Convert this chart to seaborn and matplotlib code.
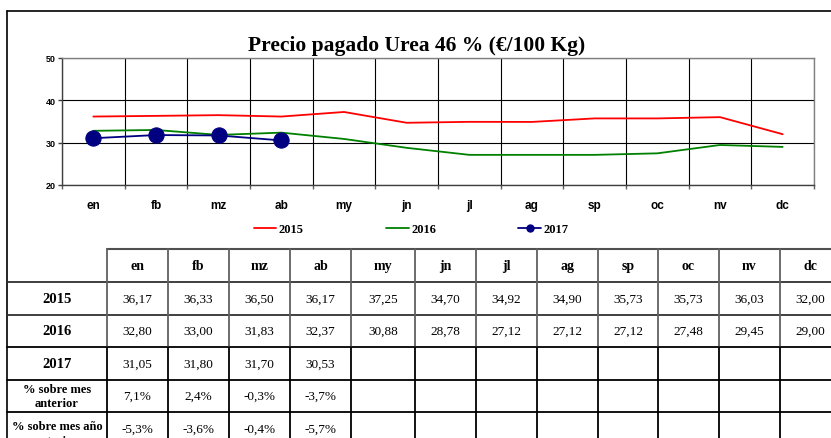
import matplotlib
matplotlib.use("Agg")
import matplotlib.pyplot as plt
import numpy as np
import seaborn as sns
from matplotlib.lines import Line2D

# Monthly prices (€/100 kg) for urea 46 %
months = ["en", "fb", "mz", "ab", "my", "jn", "jl", "ag", "sp", "oc", "nv", "dc"]
p2015 = [36.17, 36.33, 36.50, 36.17, 37.25, 34.70, 34.92, 34.90, 35.73, 35.73, 36.03, 32.00]
p2016 = [32.80, 33.00, 31.83, 32.37, 30.88, 28.78, 27.12, 27.12, 27.12, 27.48, 29.45, 29.00]
p2017 = [31.05, 31.80, 31.70, 30.53]
pct_prev_month = [7.1, 2.4, -0.3, -3.7]
pct_prev_year = [-5.3, -3.6, -0.4, -5.7]
years = ["2015", "2016", "2017"]

sns.set_theme(style="white")
plt.rcParams["font.family"] = ["Liberation Serif", "DejaVu Sans"]
plt.rcParams["text.color"] = "black"
plt.rcParams["xtick.color"] = "black"
plt.rcParams["ytick.color"] = "black"

W, H = 831, 439
fig = plt.figure(figsize=(W / 100, H / 100), dpi=100)
fig.patch.set_facecolor("white")


def fx(px):
    return px / W


def fy(py):
    return 1 - py / H


RED, GREEN, NAVY = "#FF0000", "#008000", "#000080"

# ---- line chart ----
ax = fig.add_axes([fx(62), fy(186), fx(814) - fx(62), fy(59) - fy(186)])
x12 = np.arange(len(months))
sns.lineplot(x=x12, y=p2015, ax=ax, color=RED, lw=1.3)
sns.lineplot(x=x12, y=p2016, ax=ax, color=GREEN, lw=1.3)
sns.lineplot(x=x12[:len(p2017)], y=p2017, ax=ax, color=NAVY, lw=1.3,
             marker="o", markersize=11, markeredgecolor=NAVY, markerfacecolor=NAVY)

ax.set_xlim(-0.5, 11.5)
ax.set_ylim(20, 50)
ax.set_yticks([20, 30, 40, 50])
ax.set_xticks(x12)
ax.set_xticklabels(months)
ax.set_xticks(np.arange(-0.5, 12, 1), minor=True)
ax.grid(False)
ax.grid(which="minor", axis="x", color="black", lw=0.8)
ax.grid(which="major", axis="y", color="black", lw=0.8)
ax.set_xlabel("")
ax.set_ylabel("")
for s in ax.spines.values():
    s.set_visible(True)
    s.set_color("#808080")
    s.set_linewidth(1.0)
ax.spines["left"].set_color("#404040")
ax.spines["bottom"].set_color("#404040")
ax.tick_params(axis="x", which="major", bottom=True, length=0, pad=10)
ax.tick_params(axis="x", which="minor", bottom=True, length=3, color="#606060", width=1)
ax.tick_params(axis="y", which="major", left=True, length=3, color="#404040", width=1, pad=1.5)
for lab in ax.get_xticklabels():
    lab.set_fontfamily("Liberation Sans")
    lab.set_fontweight("bold")
    lab.set_fontsize(8.5)
for lab in ax.get_yticklabels():
    lab.set_fontfamily("Liberation Sans")
    lab.set_fontweight("bold")
    lab.set_fontsize(6.5)

fig.text(fx(417), fy(46), "Precio pagado Urea 46 % (€/100 Kg)", ha="center", va="center",
         fontsize=15.5, fontweight="bold", family="Liberation Serif", color="black")

handles = [
    Line2D([], [], color=RED, lw=1.3),
    Line2D([], [], color=GREEN, lw=1.3),
    Line2D([], [], color=NAVY, lw=1.3, marker="o", markersize=5),
]
leg = fig.legend(handles, years, loc="center", bbox_to_anchor=(fx(411), fy(230)), ncol=3,
                 frameon=False, handlelength=1.8, handletextpad=0.2, columnspacing=6.6,
                 prop={"family": "Liberation Serif", "weight": "bold", "size": 9})

# ---- data table ----
tab = fig.add_axes([0, 0, 1, 1], zorder=-1)
tab.set_xlim(0, W)
tab.set_ylim(H, 0)
tab.axis("off")

# outer frame of the chart
tab.plot([7, 7], [12, H + 5], color="black", lw=1.2, clip_on=False)
tab.plot([7, W + 5], [12, 12], color="black", lw=1.2, clip_on=False)

col_x = [107, 168, 229, 290, 351, 415, 476, 537, 598, 658, 719, 780, 841]
row_y = [250, 283, 316, 348, 381, 413, 446]
label_cx = 57

tab.plot([107, W + 5], [row_y[0]] * 2, color="#505050", lw=1.5, clip_on=False)
for yy in row_y[1:]:
    c = "#303030" if yy <= 316 else "black"
    tab.plot([7, W + 5], [yy, yy], color=c, lw=1.3, clip_on=False)
for xx in col_x:
    tab.plot([xx, xx], [row_y[0], row_y[3]], color="#606060", lw=1.3, clip_on=False)
    tab.plot([xx, xx], [row_y[3], H + 5], color="black", lw=1.3, clip_on=False)

centers = [(col_x[i] + col_x[i + 1]) / 2 for i in range(len(months))]
row_c = [(row_y[i] + row_y[i + 1]) / 2 for i in range(len(row_y) - 1)]

for cx, m in zip(centers, months):
    tab.text(cx, row_c[0], m, ha="center", va="center", fontsize=10, fontweight="bold")


def fmt_val(v):
    return f"{v:.2f}".replace(".", ",")


def fmt_pct(v):
    return f"{v:.1f}%".replace(".", ",")


series = [p2015, p2016, p2017]
for r, (yr, vals) in enumerate(zip(years, series), start=1):
    tab.text(label_cx, row_c[r], yr, ha="center", va="center", fontsize=10.5, fontweight="bold")
    for cx, v in zip(centers, vals):
        tab.text(cx, row_c[r], fmt_val(v), ha="center", va="center", fontsize=9.5)

tab.text(label_cx, row_c[4], "% sobre mes\nanterior", ha="center", va="center",
         fontsize=9, fontweight="bold", linespacing=1.3)
for cx, v in zip(centers, pct_prev_month):
    tab.text(cx, row_c[4], fmt_pct(v), ha="center", va="center", fontsize=9.5)

tab.text(label_cx, row_c[5] - 8, "% sobre mes año\nanterior", ha="center", va="top",
         fontsize=9, fontweight="bold", linespacing=1.3)
for cx, v in zip(centers, pct_prev_year):
    tab.text(cx, row_c[5], fmt_pct(v), ha="center", va="center", fontsize=9.5)

fig.savefig("out.png", dpi=100)
